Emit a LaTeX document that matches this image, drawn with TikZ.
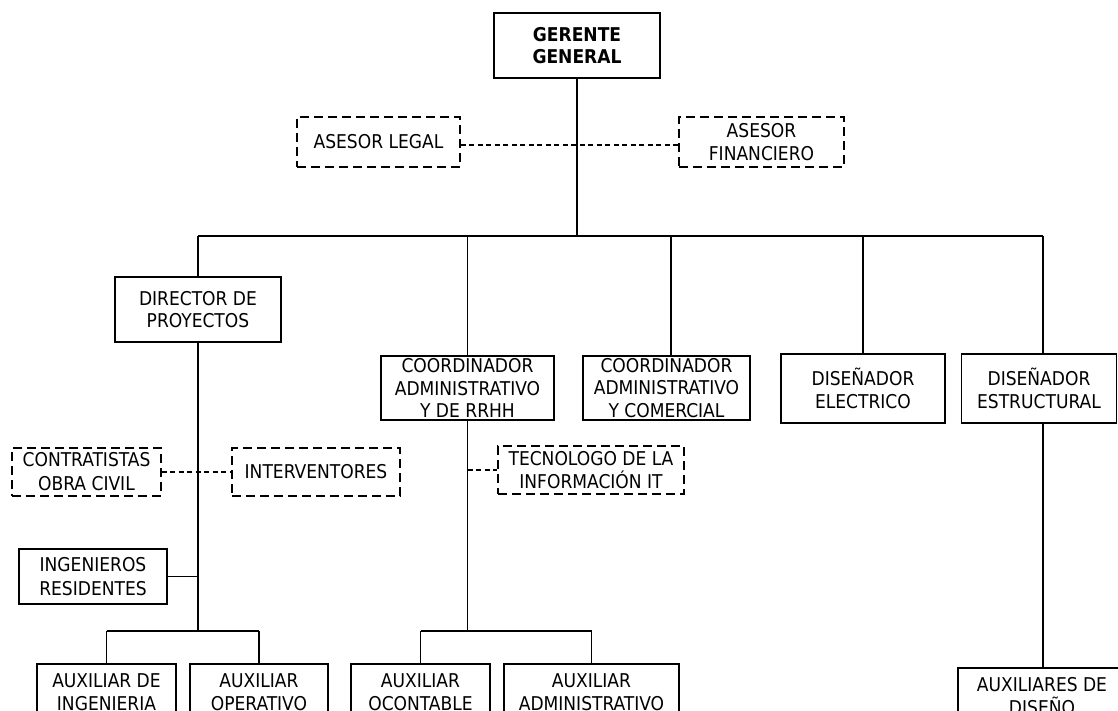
\documentclass[tikz,border=0pt]{standalone}
\usepackage{fontspec}
\setmainfont{DejaVu Sans Condensed}
\begin{document}
\begin{tikzpicture}[x=1pt,y=-1pt,
  every node/.style={font=\fontsize{19}{22.5}\selectfont, align=center, inner sep=0pt},
  box/.style={draw, line width=1.9pt},
  dbox/.style={draw, line width=1.8pt, dash pattern=on 9pt off 5pt},
  conn/.style={line width=1.4pt},
  trunk/.style={line width=1.9pt},
  dconn/.style={line width=1.2pt, dash pattern=on 5pt off 3.5pt}]
\useasboundingbox (0,0) rectangle (1118,711);
\clip (0,0) rectangle (1118,711);
\fill[white] (0,0) rectangle (1118,711);

% nodes
\node[box, minimum width=166, minimum height=65, font=\fontsize{19}{22}\selectfont\bfseries] (gg) at (577,45.5) {GERENTE\\GENERAL};
\node[dbox, minimum width=163, minimum height=50] (legal) at (378.5,142) {ASESOR LEGAL};
\node[dbox, minimum width=165, minimum height=50] (fin) at (761.5,142) {ASESOR\\FINANCIERO};

\node[box, minimum width=166, minimum height=65] (dir) at (198,309.5) {DIRECTOR DE\\PROYECTOS};
\node[box, minimum width=173, minimum height=64] (crrhh) at (467.5,388) {COORDINADOR\\ADMINISTRATIVO\\Y DE RRHH};
\node[box, minimum width=167, minimum height=64] (ccom) at (666.5,388) {COORDINADOR\\ADMINISTRATIVO\\Y COMERCIAL};
\node[box, minimum width=164, minimum height=69] (elec) at (863,388.5) {DISEÑADOR\\ELECTRICO};
\node[box, minimum width=155, minimum height=69] (estr) at (1039,388.5) {DISEÑADOR\\ESTRUCTURAL};

\node[dbox, minimum width=149, minimum height=48, font=\fontsize{19}{24}\selectfont] (contr) at (86.5,472) {CONTRATISTAS\\OBRA CIVIL};
\node[dbox, minimum width=168, minimum height=48] (interv) at (316,472) {INTERVENTORES};
\node[dbox, minimum width=186, minimum height=48] (tec) at (591,470) {TECNOLOGO DE LA\\INFORMACIÓN IT};

\node[box, minimum width=148, minimum height=55, font=\fontsize{19}{23.5}\selectfont] (ing) at (93,576.5) {INGENIEROS\\RESIDENTES};

\node[box, minimum width=139, minimum height=56] (auxing) at (106.5,692) {AUXILIAR DE\\INGENIERIA};
\node[box, minimum width=138, minimum height=56] (auxop) at (259,692) {AUXILIAR\\OPERATIVO};
\node[box, minimum width=139, minimum height=56] (auxcont) at (420.5,692) {AUXILIAR\\OCONTABLE};
\node[box, minimum width=175, minimum height=56] (auxadm) at (591.5,692) {AUXILIAR\\ADMINISTRATIVO};
\node[box, minimum width=168, minimum height=56] (auxdis) at (1042,696) {AUXILIARES DE\\DISEÑO};

% coordinates
\coordinate (bus) at (577,236);
\coordinate (dcom) at (671,236);
\coordinate (destr) at (1043,236);
\coordinate (dirbus) at (198,631);
\coordinate (rrhhbus) at (467.5,631);

% main trunk and bus
\draw[trunk] (gg.south) -- (bus);
\draw[conn] (dir.north |- bus) -- (destr);
\draw[conn] (dir.north |- bus) -- (dir.north);
\draw[conn] (crrhh.north |- bus) -- (crrhh.north);
\draw[conn] (dcom) -- (dcom |- ccom.north);
\draw[conn] (elec.north |- bus) -- (elec.north);
\draw[conn] (destr) -- (destr |- estr.north);

% advisors
\draw[dconn] ([yshift=-3pt]legal.east) -- ([yshift=-3pt]fin.west);

% director branch
\draw[trunk] (dir.south) -- (dirbus);
\draw[dconn] (contr.east) -- (interv.west);
\draw[conn] (ing.east) -- (ing.east -| dirbus);
\draw[conn] (auxing.north |- dirbus) -- (auxop.north |- dirbus);
\draw[conn] (auxing.north |- dirbus) -- (auxing.north);
\draw[conn] (auxop.north |- dirbus) -- (auxop.north);

% rrhh branch
\draw[conn] (crrhh.south) -- (rrhhbus);
\draw[dconn] (tec.west -| crrhh.south) -- (tec.west);
\draw[conn] (auxcont.north |- rrhhbus) -- (auxadm.north |- rrhhbus);
\draw[conn] (auxcont.north |- rrhhbus) -- (auxcont.north);
\draw[conn] (auxadm.north |- rrhhbus) -- (auxadm.north);

% estructural branch
\draw[conn] (estr.south -| destr) -- (auxdis.north -| destr);
\end{tikzpicture}
\end{document}
